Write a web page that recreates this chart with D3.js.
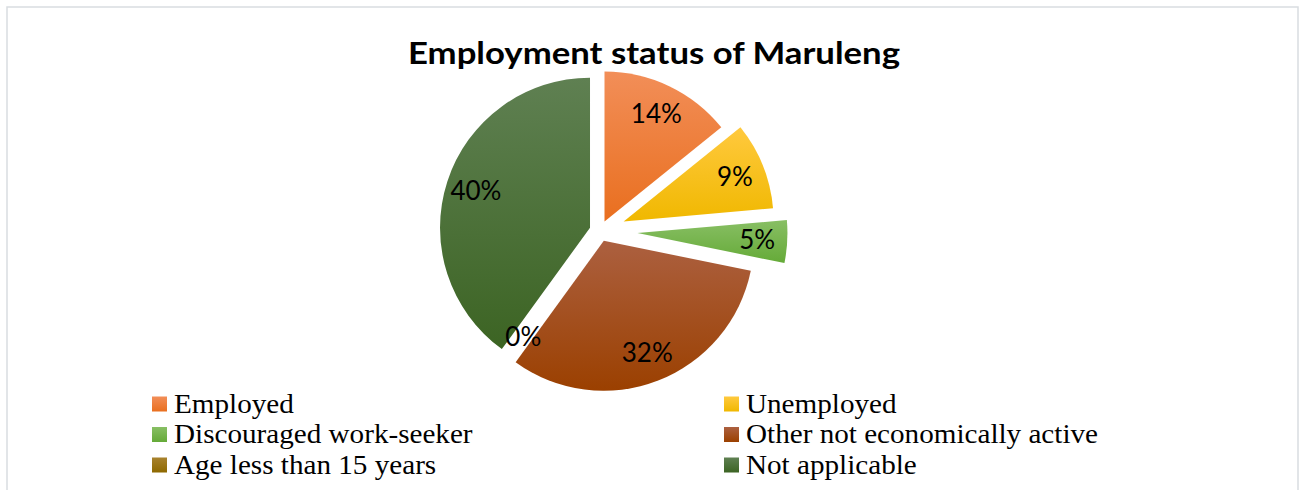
<!DOCTYPE html>
<html><head><meta charset="utf-8">
<script src="https://cdn.jsdelivr.net/npm/d3@7"></script>
<style>body{margin:0;background:#fff;overflow:hidden}</style>
</head><body>
<svg id="chart" width="1299" height="490"></svg>
<script>
const categories = ["Employed","Unemployed","Discouraged work-seeker","Other not economically active","Age less than 15 years","Not applicable"];
const values = [14.2, 9.4, 4.6, 31.8, 0, 40.0];
const valueLabels = ["14%","9%","5%","32%","0%","40%"];
const explodeFrac = [0.07, 0.17, 0.25, 0.07, 0.07, 0.07];
const colorTop = ["#F28E58","#FFC93E","#88BF64","#AC6040","#A8822E","#5F8052"];
const colorBottom = ["#E96F1F","#F0B800","#65AA38","#9B4000","#8E6900","#3C6423"];
const title = "Employment status of Maruleng";

const svg = d3.select("#chart");
const W = 1299, H = 490;
svg.append("rect").attr("x",7).attr("y",7).attr("width",W-8).attr("height",H)
  .attr("fill","#fff").attr("stroke","#D9DDE1").attr("stroke-width",1.5);

const defs = svg.append("defs");
categories.forEach((c,i)=>{
  const g = defs.append("linearGradient").attr("id","g"+i)
    .attr("x1",0).attr("y1",0).attr("x2",0).attr("y2",1);
  g.append("stop").attr("offset","0%").attr("stop-color",colorTop[i]);
  g.append("stop").attr("offset","100%").attr("stop-color",colorBottom[i]);
});

svg.append("text").attr("x",654).attr("y",64).attr("text-anchor","middle")
  .attr("font-family","Lato, 'Open Sans', sans-serif").attr("font-weight","bold")
  .attr("font-size",30).attr("textLength",492).attr("lengthAdjust","spacingAndGlyphs")
  .attr("fill","#000").text(title);

const cx = 600, cy = 231, R = 150;
const pie = d3.pie().sort(null).value(d=>d)(values);
const arc = d3.arc().innerRadius(0).outerRadius(R);
const g = svg.append("g").attr("transform",`translate(${cx},${cy})`);

pie.forEach((p,i)=>{
  if (p.endAngle - p.startAngle <= 0) return;
  const mid = (p.startAngle+p.endAngle)/2;
  const d = explodeFrac[i]*R;
  const ox = d*Math.sin(mid), oy = -d*Math.cos(mid);
  const sg = g.append("g").attr("transform",`translate(${ox},${oy})`);
  sg.append("path").attr("d",arc(p)).attr("fill",`url(#g${i})`);
});
pie.forEach((p,i)=>{
  const mid = (p.startAngle+p.endAngle)/2;
  const d = explodeFrac[i]*R;
  const lr = d + 0.8*R;
  g.append("text").attr("x",lr*Math.sin(mid)).attr("y",-lr*Math.cos(mid))
    .attr("text-anchor","middle").attr("dy","0.36em")
    .attr("font-family","Lato, 'Open Sans', sans-serif").attr("font-size",26)
    .attr("fill","#000").text(valueLabels[i]);
});

const legX = [152, 724], legY0 = 404, legDY = 30.5;
const leg = svg.append("g");
const texts = [];
categories.forEach((c,i)=>{
  const col = i%2, row = Math.floor(i/2);
  const x = legX[col], y = legY0 + row*legDY;
  leg.append("rect").attr("x",x).attr("y",y-7.5).attr("width",15).attr("height",15)
    .attr("fill",`url(#g${i})`);
  texts.push(leg.append("text").attr("x",x+22).attr("y",y).attr("dy","0.33em")
    .attr("font-family","'Liberation Serif', 'Times New Roman', serif").attr("font-size",27)
    .attr("fill","#000").text(c));
});
// stretch legend text horizontally to match the reference's wide serif
const k = 352 / texts[3].node().getComputedTextLength();
texts.forEach(t => t.attr("textLength", t.node().getComputedTextLength()*k).attr("lengthAdjust","spacingAndGlyphs"));
</script>
</body></html>
